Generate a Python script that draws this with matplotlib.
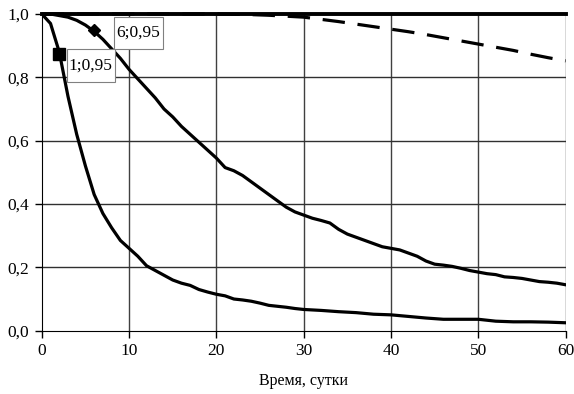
import matplotlib
matplotlib.use("Agg")
import matplotlib.pyplot as plt
from matplotlib.patches import Rectangle
from matplotlib.ticker import FuncFormatter

plt.rcParams['font.family'] = ['Liberation Serif', 'DejaVu Serif']
plt.rcParams['font.size'] = 12

# fast decay curve
days_a = [0, 1, 2, 3, 4, 5, 6, 7, 8, 9, 10, 11, 12, 13, 14, 15, 16, 17, 18, 19, 20,
          21, 22, 23, 24, 25, 26, 27, 28, 29, 30, 32, 34, 36, 38, 40, 42, 44, 46, 48,
          50, 52, 54, 56, 58, 60]
surv_a = [1.0, 0.97, 0.88, 0.74, 0.62, 0.52, 0.43, 0.37, 0.325, 0.285, 0.26, 0.235,
          0.205, 0.19, 0.175, 0.16, 0.15, 0.143, 0.13, 0.122, 0.115, 0.11, 0.10, 0.097,
          0.093, 0.087, 0.08, 0.077, 0.074, 0.07, 0.067, 0.064, 0.06, 0.057, 0.052,
          0.05, 0.045, 0.04, 0.036, 0.036, 0.036, 0.03, 0.028, 0.028, 0.027, 0.025]

# slower decay curve
days_b = list(range(0, 61))
surv_b = [1.0, 1.0, 0.995, 0.99, 0.98, 0.965, 0.945, 0.92, 0.89, 0.86, 0.825, 0.795,
          0.765, 0.735, 0.70, 0.675, 0.645, 0.62, 0.595, 0.57, 0.545, 0.515, 0.505,
          0.49, 0.47, 0.45, 0.43, 0.41, 0.39, 0.375, 0.365, 0.355, 0.348, 0.34, 0.32,
          0.305, 0.295, 0.285, 0.275, 0.265, 0.26, 0.255, 0.245, 0.235, 0.22, 0.21,
          0.207, 0.203, 0.197, 0.19, 0.185, 0.18, 0.177, 0.17, 0.168, 0.165, 0.16,
          0.155, 0.153, 0.15, 0.145]

# dashed curve
days_c = [0, 10, 20, 22, 24, 26, 28, 30, 32, 34, 36, 38, 40, 42, 44, 46, 48, 50, 52,
          54, 56, 58, 60]
surv_c = [1.0, 1.0, 1.0, 0.999, 0.998, 0.996, 0.993, 0.99, 0.983, 0.976, 0.968, 0.96,
          0.952, 0.944, 0.935, 0.925, 0.915, 0.905, 0.895, 0.885, 0.873, 0.862, 0.852]

# constant line
days_d = [0, 60]
surv_d = [1.0, 1.0]

# point labels
lab_text = ['1;0,95', '6;0,95']
lab_box = [(2.85, 0.786, 5.53, 0.103), (8.27, 0.889, 5.58, 0.103)]

fig = plt.figure(figsize=(5.74, 3.94), dpi=100)
ax = fig.add_axes([0.0728, 0.1607, 0.9126, 0.8038])

for xv in range(10, 61, 10):
    ax.axvline(xv, color='#404040', lw=1.0, zorder=1)
for yv in [0.2, 0.4, 0.6, 0.8]:
    ax.axhline(yv, color='#303030', lw=1.0, zorder=1)

ax.plot(days_c, surv_c, color='black', lw=2.3, dashes=(7, 4), zorder=3, clip_on=False)
ax.plot(days_d, surv_d, color='black', lw=2.8, zorder=4, clip_on=False)
ax.plot(days_a, surv_a, color='black', lw=2.3, zorder=3)
ax.plot(days_b, surv_b, color='black', lw=2.3, zorder=3)

ax.plot([2], [0.875], marker='s', ms=8.5, color='black', zorder=5, clip_on=False)
ax.plot([6], [0.95], marker='D', ms=6.5, color='black', zorder=5, clip_on=False)

for t, (bx, by, bw, bh) in zip(lab_text, lab_box):
    ax.add_patch(Rectangle((bx, by), bw, bh, fc='white', ec='#808080', lw=0.8, zorder=6))
    ax.text(bx + bw / 2, by + bh / 2, t, ha='center', va='center', fontsize=12.5, zorder=7)

ax.set_xlim(0, 60)
ax.set_ylim(0, 1)
ax.set_xticks(range(0, 61, 10))
ax.set_yticks([0, 0.2, 0.4, 0.6, 0.8, 1.0])
ax.yaxis.set_major_formatter(FuncFormatter(lambda v, p: ('%.1f' % v).replace('.', ',')))
ax.tick_params(direction='out', length=5, width=1, color='black', labelsize=12.5, pad=4)
ax.spines['top'].set_visible(False)
ax.spines['right'].set_visible(False)
ax.spines['left'].set_color('black')
ax.spines['bottom'].set_color('black')
ax.set_xlabel('Время, сутки', fontsize=11.5, labelpad=10)

fig.savefig('out.png', dpi=100)
